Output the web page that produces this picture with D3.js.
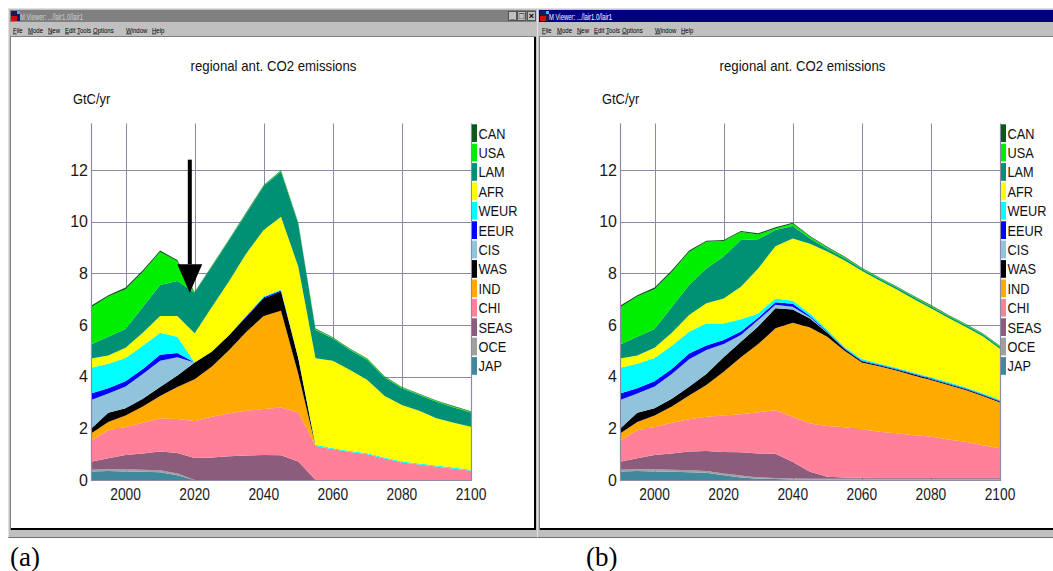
<!DOCTYPE html>
<html>
<head>
<meta charset="utf-8">
<script src="https://cdn.jsdelivr.net/npm/d3@7"></script>
<style>
  body { margin: 0; background: #fff; }
  svg { display: block; }
  text { font-family: "Liberation Sans", Arial, sans-serif; }
</style>
</head>
<body>
<svg id="chart" width="1053" height="571"></svg>
<script>
const svg = d3.select("#chart");

// ---- data (GtC/yr per region) ----
const years = [1990, 1995, 2000, 2005, 2010, 2015, 2020, 2025, 2030, 2035, 2040, 2045,
  2050, 2055, 2060, 2065, 2070, 2075, 2080, 2085, 2090, 2095, 2100];

// legend order, top to bottom
const regions = ["CAN", "USA", "LAM", "AFR", "WEUR", "EEUR", "CIS", "WAS", "IND", "CHI", "SEAS", "OCE", "JAP"];
const regionColors = ["#0b5a1c", "#00ee00", "#009074", "#ffff00", "#00ffff", "#0000ff", "#90c4dc",
  "#000000", "#ffaa00", "#ff8098", "#8c5c7c", "#a0a0a0", "#40889c"];

const yTicks = [0, 2, 4, 6, 8, 10, 12];
const xTicks = [2000, 2020, 2040, 2060, 2080, 2100];
const gridYears = [2000, 2020, 2040, 2060, 2080];

// scenario (a)
const japA = [0.33, 0.35, 0.33, 0.32, 0.30, 0.18, 0, 0, 0, 0, 0, 0, 0, 0, 0, 0, 0, 0, 0, 0, 0, 0, 0];
const oceA = [0.07, 0.07, 0.09, 0.08, 0.08, 0.07, 0, 0, 0, 0, 0, 0, 0, 0, 0, 0, 0, 0, 0, 0, 0, 0, 0];
const seasA = [0.31, 0.42, 0.55, 0.63, 0.72, 0.80, 0.85, 0.87, 0.92, 0.95, 0.97, 0.96, 0.72, 0, 0, 0, 0, 0, 0, 0, 0, 0, 0];
const chiA = [0.81, 1.09, 1.08, 1.19, 1.28, 1.31, 1.43, 1.58, 1.66, 1.73, 1.78, 1.85, 1.90, 1.32, 1.19, 1.08, 1.00, 0.83, 0.68, 0.60, 0.52, 0.44, 0.36];
const indA = [0.28, 0.32, 0.45, 0.63, 0.87, 1.24, 1.62, 1.94, 2.45, 3.06, 3.60, 3.74, 1.48, 0, 0, 0, 0, 0, 0, 0, 0, 0, 0];
const wasA = [0.18, 0.35, 0.28, 0.30, 0.35, 0.45, 0.65, 0.58, 0.58, 0.58, 0.68, 0.75, 0.60, 0, 0, 0, 0, 0, 0, 0, 0, 0, 0];
const cisA = [1.12, 0.75, 0.84, 0.95, 1.02, 0.70, 0, 0, 0, 0, 0, 0, 0, 0, 0, 0, 0, 0, 0, 0, 0, 0, 0];
const eeurA = [0.25, 0.20, 0.20, 0.20, 0.23, 0.17, 0, 0, 0, 0.03, 0.04, 0.04, 0.02, 0, 0, 0, 0, 0, 0, 0, 0, 0, 0];
const weurA = [1.00, 0.95, 0.90, 0.90, 0.85, 0.63, 0, 0, 0, 0.02, 0.03, 0.03, 0.02, 0.04, 0.04, 0.04, 0.04, 0.04, 0.04, 0.04, 0.04, 0.04, 0.04];
const afrA = [0.35, 0.32, 0.40, 0.50, 0.65, 0.80, 1.13, 1.73, 2.09, 2.41, 2.58, 2.82, 3.52, 3.35, 3.39, 3.14, 2.83, 2.38, 2.18, 2.04, 1.83, 1.74, 1.66];
const lamA = [0.55, 0.73, 0.73, 1.00, 1.20, 1.35, 1.57, 1.56, 1.59, 1.55, 1.70, 1.75, 1.66, 1.10, 0.86, 0.77, 0.78, 0.72, 0.65, 0.61, 0.64, 0.59, 0.55];
const usaA = [1.43, 1.55, 1.53, 1.35, 1.28, 0.77, 0, 0.02, 0.02, 0.02, 0.02, 0.03, 0.03, 0.03, 0.03, 0.03, 0.03, 0.03, 0.03, 0.03, 0.03, 0.03, 0.03];
const canA = [0.07, 0.05, 0.07, 0.07, 0.05, 0.05, 0.03, 0.02, 0.02, 0.02, 0.02, 0.02, 0.02, 0.02, 0.02, 0.02, 0.02, 0.02, 0.02, 0.02, 0.02, 0.02, 0.02];

// scenario (b)
const japB = [0.33, 0.35, 0.33, 0.32, 0.30, 0.28, 0.18, 0.10, 0.05, 0.04, 0.02, 0.02, 0.02, 0.02, 0.02, 0.02, 0.02, 0.02, 0.02, 0.02, 0.02, 0.02, 0.02];
const oceB = [0.07, 0.07, 0.09, 0.08, 0.08, 0.07, 0.07, 0.07, 0.05, 0.04, 0.04, 0.03, 0.03, 0.03, 0.03, 0.03, 0.03, 0.03, 0.03, 0.03, 0.03, 0.03, 0.03];
const seasB = [0.31, 0.42, 0.55, 0.63, 0.72, 0.77, 0.83, 0.90, 0.93, 0.94, 0.64, 0.27, 0.08, 0.05, 0.04, 0.03, 0.03, 0.03, 0.03, 0.03, 0.03, 0.03, 0.03];
const chiB = [0.81, 1.09, 1.08, 1.19, 1.25, 1.33, 1.42, 1.48, 1.59, 1.68, 1.75, 1.87, 1.96, 1.94, 1.87, 1.79, 1.73, 1.65, 1.60, 1.49, 1.40, 1.27, 1.15];
const indB = [0.28, 0.32, 0.45, 0.63, 0.92, 1.23, 1.69, 2.20, 2.64, 3.17, 3.64, 3.71, 3.46, 2.96, 2.59, 2.53, 2.43, 2.32, 2.19, 2.11, 2.00, 1.90, 1.77];
const wasB = [0.18, 0.35, 0.28, 0.30, 0.34, 0.42, 0.56, 0.60, 0.68, 0.78, 0.51, 0.35, 0.15, 0.07, 0.05, 0.04, 0.04, 0.04, 0.04, 0.04, 0.04, 0.04, 0.04];
const cisB = [1.12, 0.75, 0.84, 0.95, 1.06, 0.93, 0.51, 0.26, 0.25, 0.13, 0.11, 0.05, 0.02, 0.01, 0.01, 0.01, 0.01, 0.01, 0.01, 0.01, 0.01, 0.01, 0.01];
const eeurB = [0.25, 0.20, 0.20, 0.20, 0.23, 0.18, 0.16, 0.14, 0.09, 0.10, 0.11, 0.05, 0.03, 0.02, 0.02, 0.02, 0.02, 0.02, 0.02, 0.02, 0.02, 0.02, 0.02];
const weurB = [1.00, 0.95, 0.90, 0.90, 0.84, 0.85, 0.64, 0.47, 0.17, 0.15, 0.12, 0.10, 0.07, 0.05, 0.05, 0.04, 0.04, 0.04, 0.04, 0.04, 0.04, 0.04, 0.04];
const afrB = [0.35, 0.32, 0.40, 0.50, 0.65, 0.78, 0.97, 1.26, 1.74, 2.02, 2.41, 2.70, 3.03, 3.35, 3.42, 3.22, 3.03, 2.85, 2.67, 2.49, 2.34, 2.20, 1.97];
const lamB = [0.55, 0.73, 0.73, 1.00, 1.16, 1.35, 1.62, 1.81, 1.13, 0.63, 0.48, 0.20, 0.10, 0.08, 0.07, 0.07, 0.07, 0.07, 0.07, 0.07, 0.07, 0.07, 0.07];
const usaB = [1.43, 1.55, 1.53, 1.35, 1.28, 1.03, 0.60, 0.31, 0.18, 0.06, 0.09, 0.07, 0.05, 0.04, 0.03, 0.03, 0.03, 0.03, 0.03, 0.03, 0.03, 0.03, 0.03];
const canB = [0.07, 0.05, 0.07, 0.07, 0.05, 0.04, 0.04, 0.04, 0.05, 0.04, 0.04, 0.03, 0.03, 0.03, 0.02, 0.02, 0.02, 0.02, 0.02, 0.02, 0.02, 0.02, 0.02];

// arrow annotation in panel (a): year, top value, head base, tip
const arrowA = [2018.6, 12.4, 8.35, 7.25];

const tableA = { JAP: japA, OCE: oceA, SEAS: seasA, CHI: chiA, IND: indA, WAS: wasA, CIS: cisA,
  EEUR: eeurA, WEUR: weurA, AFR: afrA, LAM: lamA, USA: usaA, CAN: canA };
const tableB = { JAP: japB, OCE: oceB, SEAS: seasB, CHI: chiB, IND: indB, WAS: wasB, CIS: cisB,
  EEUR: eeurB, WEUR: weurB, AFR: afrB, LAM: lamB, USA: usaB, CAN: canB };

const stackKeys = regions.slice().reverse(); // JAP at the bottom
const colorOf = {};
regions.forEach((r, i) => (colorOf[r] = regionColors[i]));

const gridColor = "#8c8aa6";
const winShift = 529; // second window is the same layout moved right

// squeeze text horizontally (the screenshot font is narrow)
function squeeze(sel, k) {
  sel.each(function () {
    const w = this.getComputedTextLength();
    d3.select(this).attr("textLength", w * k).attr("lengthAdjust", "spacingAndGlyphs");
  });
}

function drawWindow(dx, active) {
  const left = 8 + dx;
  const w = 530;

  svg.append("rect").attr("x", left).attr("y", 8).attr("width", w).attr("height", 530).attr("fill", "#c0c0c0");
  svg.append("path")
    .attr("d", `M${left + 0.5},537.5 V8.5 H${left + w - 0.5}`)
    .attr("stroke", "#e0e0e0").attr("fill", "none");
  svg.append("path")
    .attr("d", `M${left + 0.5},537.5 H${left + w - 0.5} V8.5`)
    .attr("stroke", "#707070").attr("fill", "none");

  // title bar
  svg.append("rect")
    .attr("x", left + 2).attr("y", 10).attr("width", w - 4).attr("height", 12)
    .attr("fill", active ? "#000080" : "#808080");
  // little app icon
  svg.append("rect").attr("x", left + 3).attr("y", 11).attr("width", 9).attr("height", 10).attr("fill", "#1a1a50");
  svg.append("rect").attr("x", left + 3).attr("y", 16).attr("width", 6).attr("height", 5).attr("fill", "#d01010");
  svg.append("rect").attr("x", left + 9).attr("y", 11).attr("width", 3).attr("height", 3).attr("fill", "#30c0e0");

  svg.append("text")
    .attr("x", left + 12).attr("y", 19.5)
    .style("font-size", "9px")
    .attr("fill", active ? "#ffffff" : "#d0d0d0")
    .attr("textLength", 63).attr("lengthAdjust", "spacingAndGlyphs")
    .text("M Viewer: .../lair1.0/lair1");

  if (!active) {
    const btnX = [500, 509, 519];
    const btnGlyph = ["_", "\u25A1", "\u00D7"];
    btnX.forEach((bx, i) => {
      svg.append("rect")
        .attr("x", left + bx + 0.5).attr("y", 11.5).attr("width", 8).attr("height", 9)
        .attr("fill", "#c0c0c0").attr("stroke", "#404040").attr("stroke-width", 0.8);
      svg.append("text")
        .attr("x", left + bx + 4.5).attr("y", 19)
        .attr("text-anchor", "middle")
        .style("font-size", "9px").style("font-weight", "bold")
        .attr("fill", "#000")
        .text(btnGlyph[i]);
    });
  }

  // menu bar
  const menuWords = ["File", "Mode", "New", "Edit", "Tools", "Options", "Window", "Help"];
  const menuX = [5, 20, 40, 57, 69, 85, 118, 144];
  menuWords.forEach((m, i) => {
    const t = svg.append("text")
      .attr("x", left + menuX[i]).attr("y", 32.5)
      .style("font-size", "7.5px").attr("fill", "#000");
    t.append("tspan").style("text-decoration", "underline").text(m[0]);
    t.append("tspan").text(m.slice(1));
    squeeze(t, 0.8);
  });

  // client area with sunken border
  svg.append("rect").attr("x", left + 2).attr("y", 36).attr("width", w - 4).attr("height", 494).attr("fill", "#808080");
  svg.append("rect").attr("x", left + 3).attr("y", 37).attr("width", w - 5).attr("height", 493).attr("fill", "#000");
  svg.append("rect").attr("x", left + 3).attr("y", 37).attr("width", w - 7).attr("height", 491).attr("fill", "#fff");
}

function drawChart(dx, table, arrow) {
  const x = d3.scaleLinear().domain([1990, 2100]).range([91 + dx, 471 + dx]);
  const y = d3.scaleLinear().domain([0, 13.8]).range([480, 123.5]);

  const rows = years.map((yr, i) => {
    const row = { year: yr };
    stackKeys.forEach(k => (row[k] = table[k][i]));
    return row;
  });
  const layers = d3.stack().keys(stackKeys)(rows);

  // grid behind the areas
  svg.append("g").selectAll("line").data(yTicks.slice(1)).join("line")
    .attr("x1", x(1990)).attr("x2", x(2100))
    .attr("y1", d => Math.round(y(d)) + 0.5).attr("y2", d => Math.round(y(d)) + 0.5)
    .attr("stroke", gridColor).attr("stroke-width", 1);
  svg.append("g").selectAll("line").data(gridYears).join("line")
    .attr("x1", d => Math.round(x(d)) + 0.5).attr("x2", d => Math.round(x(d)) + 0.5)
    .attr("y1", y(13.8)).attr("y2", y(0))
    .attr("stroke", gridColor).attr("stroke-width", 1);

  const area = d3.area()
    .x(d => x(d.data.year))
    .y0(d => y(d[0]))
    .y1(d => y(d[1]));

  svg.append("g").selectAll("path").data(layers).join("path")
    .attr("fill", d => colorOf[d.key])
    .attr("d", area);

  // frame: left axis, bottom, right edge
  svg.append("path")
    .attr("d", `M${x(1990) + 0.5},${y(13.8)} V${y(0) + 0.5} H${x(2100) + 0.5} V${y(13.8)}`)
    .attr("fill", "none").attr("stroke", gridColor).attr("stroke-width", 1.2);

  // tick labels
  svg.append("g").selectAll("text").data(yTicks).join("text")
    .attr("x", 88 + dx).attr("y", d => y(d) + 5.8)
    .attr("text-anchor", "end")
    .style("font-size", "16px").attr("fill", "#1a1a1a")
    .text(d => d);
  svg.append("g").selectAll("text").data(xTicks).join("text")
    .attr("x", d => x(d)).attr("y", 500)
    .attr("text-anchor", "middle")
    .style("font-size", "16px").attr("fill", "#1a1a1a")
    .text(d => d)
    .call(squeeze, 0.86);

  // titles
  svg.append("text")
    .attr("x", 273.5 + dx).attr("y", 71)
    .attr("text-anchor", "middle")
    .style("font-size", "15px").attr("fill", "#111")
    .text("regional ant. CO2 emissions")
    .call(squeeze, 0.88);
  svg.append("text")
    .attr("x", 73 + dx).attr("y", 104)
    .style("font-size", "15px").attr("fill", "#111")
    .text("GtC/yr")
    .call(squeeze, 0.86);

  // legend
  const lg = svg.append("g");
  regions.forEach((r, i) => {
    const top = 124.3 + i * 19.4;
    lg.append("rect")
      .attr("x", 472 + dx).attr("y", top).attr("width", 5).attr("height", 17.7)
      .attr("fill", colorOf[r]);
    lg.append("text")
      .attr("x", 478.5 + dx).attr("y", top + 14.3)
      .style("font-size", "14.5px").attr("fill", "#111")
      .text(r)
      .call(squeeze, 0.88);
  });

  // arrow (panel a only)
  if (arrow) {
    const ax = x(arrow[0]);
    svg.append("rect")
      .attr("x", ax - 2).attr("y", y(arrow[1]))
      .attr("width", 4).attr("height", y(arrow[2]) - y(arrow[1]))
      .attr("fill", "#000");
    svg.append("path")
      .attr("d", `M${ax - 12.5},${y(arrow[2])} L${ax + 12.5},${y(arrow[2])} L${ax},${y(arrow[3])} Z`)
      .attr("fill", "#000");
  }
}

drawWindow(0, false);
drawChart(0, tableA, arrowA);
drawWindow(winShift, true);
drawChart(winShift, tableB, null);

// panel captions
svg.append("text").attr("x", 10).attr("y", 566)
  .style("font-family", "'Liberation Serif', 'Times New Roman', serif")
  .style("font-size", "27px").attr("fill", "#000").text("(a)");
svg.append("text").attr("x", 586).attr("y", 566)
  .style("font-family", "'Liberation Serif', 'Times New Roman', serif")
  .style("font-size", "27px").attr("fill", "#000").text("(b)");
</script>
</body>
</html>
